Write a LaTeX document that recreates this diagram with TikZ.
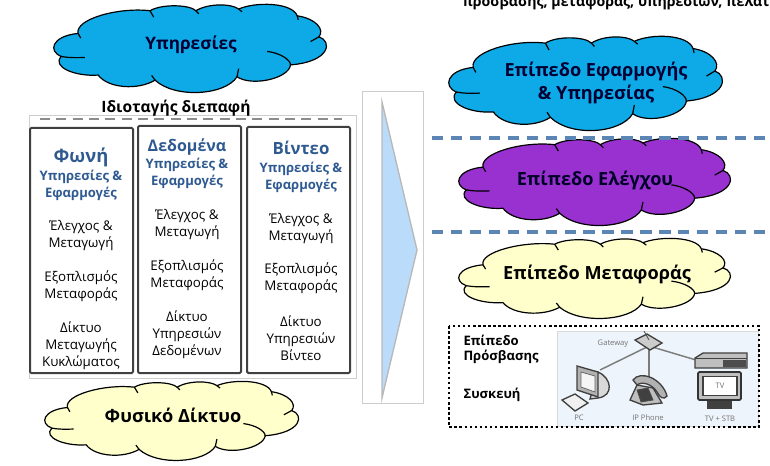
\documentclass[tikz,border=0pt]{standalone}
\usepackage{fontspec}
\setmainfont{Open Sans}
\definecolor{cloudblue}{RGB}{14,170,232}
\definecolor{cloudpurple}{RGB}{153,48,208}
\definecolor{cloudyellow}{RGB}{255,255,204}
\definecolor{headblue}{RGB}{47,90,145}
\definecolor{dashblue}{RGB}{90,133,180}
\definecolor{arrowblue}{RGB}{186,220,250}
\definecolor{panelblue}{RGB}{238,244,251}
\definecolor{framegray}{RGB}{205,205,205}
\definecolor{columngray}{RGB}{64,64,64}
\definecolor{devicegray}{RGB}{125,125,125}
\tikzset{every picture/.style={line width=0.75pt},
  cloudline/.style={draw=black,line width=0.9pt},
  columnbox/.style={draw=columngray,line width=1.5pt,rounded corners=1pt},
  planedash/.style={draw=dashblue,line width=2.5pt,dash pattern=on 8.5pt off 5.7pt},
  planetext/.style={font=\bfseries\fontsize{13.6}{17.2}\selectfont,align=center,inner sep=0.75pt},
  bodytext/.style={font=\fontsize{10}{12.75}\selectfont,align=center,inner sep=0.75pt},
  subtext/.style={font=\bfseries\fontsize{9.8}{12.75}\selectfont,text=headblue,align=center,inner sep=0.75pt},
  accesstext/.style={font=\bfseries\fontsize{9.8}{12.75}\selectfont,align=left,anchor=west,inner sep=0.75pt},
  devicetext/.style={font=\fontsize{5.7}{6}\selectfont,text=black!55,inner sep=0.75pt},
  device/.style={draw=black!75,line width=1pt,fill=black!12},
  deviceline/.style={draw=devicegray,line width=1.1pt}}
\newcommand{\layercloud}[5]{%
\begin{scope}[shift={(#1,#2)},xscale=#3/822,yscale=#4/257,shift={(-58,-28)}]
\path [cloudline,fill=#5] (80,180) .. controls (40,165) and (50,120) .. (130,112) .. controls (120,70) and (250,34) .. (345,45) .. controls (380,24) and (465,27) .. (482,45) .. controls (520,22) and (590,24) .. (610,40) .. controls (660,18) and (770,20) .. (785,60) .. controls (840,68) and (868,100) .. (850,122) .. controls (890,135) and (885,195) .. (765,205) .. controls (760,245) and (650,270) .. (605,240) .. controls (570,295) and (420,305) .. (360,250) .. controls (310,280) and (220,275) .. (190,235) .. controls (120,240) and (50,210) .. (80,180) -- cycle ;
\draw [cloudline] (80,180) .. controls (100,184) and (125,184) .. (150,183) ;
\draw [cloudline] (130,112) -- (138,126) ;
\draw [cloudline] (345,45) -- (356,64) ;
\draw [cloudline] (482,45) -- (491,54) ;
\draw [cloudline] (610,40) -- (620,48) ;
\draw [cloudline] (785,60) -- (788,72) ;
\draw [cloudline] (850,122) -- (825,136) ;
\draw [cloudline] (765,205) .. controls (765,190) and (735,170) .. (695,165) ;
\draw [cloudline] (605,240) -- (610,216) ;
\draw [cloudline] (360,250) -- (350,236) ;
\end{scope}}

\begin{document}
\begin{tikzpicture}[x=0.75pt,y=0.75pt,yscale=-1,xscale=1]
\useasboundingbox (0,0) rectangle (770,466);

%Shape: Cloud
\layercloud{54}{5}{275}{87}{cloudblue}
\layercloud{45}{382}{256}{78}{cloudyellow}
\layercloud{449}{37}{276}{93}{cloudblue}
\layercloud{459}{139}{274}{86}{cloudpurple}
\layercloud{459}{239}{274}{79}{cloudyellow}

% Text Node
\node (services) at (191,45) [planetext,font=\bfseries\fontsize{12.9}{17.2}\selectfont,text=black!80!blue] {Υπηρεσίες};
\node (physical) at (173,415) [planetext] {Φυσικό Δίκτυο};
\node (appplane) at (596,82.5) [planetext,text=black!80!blue] {Επίπεδο Εφαρμογής\\\& Υπηρεσίας};
\node (ctrlplane) at (595,180) [planetext,text=black!85!blue] {Επίπεδο Ελέγχου};
\node (transplane) at (597,274) [planetext] {Επίπεδο Μεταφοράς};
\node (toptext) at (462,7) [anchor=base west,inner sep=0pt,font=\bfseries\fontsize{10.6}{12}\selectfont] {πρόσβασης, μεταφοράς, υπηρεσιών, πελατ};

%Shape: Rectangle
\draw [framegray,line width=0.6pt] (29,115) rectangle (356,378) ;
\draw [line width=2.2pt,draw=black!45,dash pattern=on 7.5pt off 4.75pt] (40,119) -- (342,119) ;
\node (iface) at (176,108) [inner sep=0.75pt,font=\bfseries\fontsize{11.7}{12}\selectfont] {Ιδιοταγής διεπαφή};
\draw [columnbox] (30,128) rectangle (133,373) ;
\draw [columnbox] (138,126) rectangle (241,373) ;
\draw [columnbox] (247,127) rectangle (350,373) ;

% Text Node
\node (voice) at (81,157) [inner sep=0.75pt,text=headblue,font=\bfseries\fontsize{13.8}{16}\selectfont] {Φωνή};
\node (voicesrv) at (81,185) [subtext] {Υπηρεσίες \&\\Εφαρμογές};
\node (voicectl) at (81,235.5) [bodytext] {Έλεγχος \&\\Μεταγωγή};
\node (voiceeq) at (81,286.5) [bodytext] {Εξοπλισμός\\Μεταφοράς};
\node (voicenet) at (81,346) [bodytext] {Δίκτυο\\Μεταγωγής\\Κυκλώματος};
% Text Node
\node (data) at (187,147) [inner sep=0.75pt,text=headblue,font=\bfseries\fontsize{12}{14}\selectfont] {Δεδομένα};
\node (datasrv) at (187,173.5) [subtext] {Υπηρεσίες \&\\Εφαρμογές};
\node (datactl) at (187,224.5) [bodytext] {Έλεγχος \&\\Μεταγωγή};
\node (dataeq) at (187,275.5) [bodytext] {Εξοπλισμός\\Μεταφοράς};
\node (datanet) at (187,335) [bodytext] {Δίκτυο\\Υπηρεσιών\\Δεδομένων};
% Text Node
\node (video) at (301,148) [inner sep=0.75pt,text=headblue,font=\bfseries\fontsize{12.6}{14}\selectfont] {Βίντεο};
\node (videosrv) at (301,177.5) [subtext] {Υπηρεσίες \&\\Εφαρμογές};
\node (videoctl) at (301,228.5) [bodytext] {Έλεγχος \&\\Μεταγωγή};
\node (videoeq) at (301,278.5) [bodytext] {Εξοπλισμός\\Μεταφοράς};
\node (videonet) at (301,338) [bodytext] {Δίκτυο\\Υπηρεσιών\\Βίντεο};

%Shape: Arrow
\draw [framegray,line width=0.6pt] (362,91) rectangle (423,403) ;
\draw [draw=black!28,fill=arrowblue,line width=1pt] (382,102) -- (417,250) -- (382,398) -- cycle ;

%Shape: Dashed planes
\draw [planedash] (432,138) -- (770,138) ;
\draw [planedash] (432,232) -- (770,232) ;

%Shape: Access panel
\draw [draw=black!15,line width=0.5pt,fill=panelblue] (557,331) rectangle (758,426) ;
\draw [line width=1.9pt,dash pattern=on 1.9pt off 1.9pt] (449,326) rectangle (759,427) ;
\node (accessa) at (462,340) [accesstext] {Επίπεδο};
\node (accessb) at (462,357) [accesstext] {Πρόσβασης};
\node (accessc) at (462,395) [accesstext] {Συσκευή};

%Shape: Devices
\coordinate (pcport) at (600,370);
\coordinate (phoneport) at (649,378);
\coordinate (stbport) at (696,360);
\coordinate (gwport) at (649,346);
\draw [deviceline] (gwport) -- (pcport) ;
\draw [deviceline] (gwport) -- (phoneport) ;
\draw [deviceline] (gwport) -- (stbport) ;
\draw [device,fill=black!20] (635,340) -- (647,334) -- (662,343) -- (650,350) -- cycle ;
\draw [black!70,line width=0.6pt] (649,340) -- (644,331) ;
% PC
\draw [device,fill=black!15] (598,372) .. controls (612,378) and (614,396) .. (598,398) -- (590,399) -- (592,392) -- cycle ;
\draw [device,fill=black!30] (577,366) -- (598,372) -- (598,397) -- (577,390) -- cycle ;
\draw [draw=black!60,line width=0.6pt,fill=black!4] (581,372) -- (595,376) -- (595,392) -- (581,387) -- cycle ;
\draw [device,fill=black!6] (562,400) -- (575,394) -- (588,403) -- (575,411) -- cycle ;
% Phone
\draw [device,fill=black!25] (630,400) -- (637,385) -- (653,388) -- (662,403) -- (643,405) -- cycle ;
\draw [device,fill=black!30] (633,380) .. controls (640,370) and (662,378) .. (667,396) .. controls (664,400) and (660,398) .. (657,392) .. controls (652,384) and (642,381) .. (637,385) -- cycle ;
\draw [draw=black!70,line width=0.6pt,fill=black!75] (637,390) -- (648,388) -- (653,400) -- (641,402) -- cycle ;
% TV and STB
\draw [device,fill=black!25] (695,358) -- (703,353) -- (747,353) -- (747,368) -- (695,368) -- cycle ;
\draw [black!75,line width=0.6pt] (695,358) -- (747,358) ;
\fill [black!70] (723,360) rectangle (746,367) ;
\draw [device,fill=black!75] (708,398) rectangle (731,408) ;
\draw [draw=black!80,line width=1.3pt,fill=black!25,rounded corners=1pt] (698,372) rectangle (741,400) ;
\node (tvscreen) at (720,386) [draw=black!75,fill=white,line width=0.8pt,minimum width=25.5pt,minimum height=14pt,inner sep=0pt,font=\fontsize{5.7}{6}\selectfont,text=black!55] {TV};
% Text Node
\node (gwlabel) at (613,344) [devicetext] {Gateway};
\node (pclabel) at (579,418) [devicetext] {PC};
\node (phonelabel) at (648,418) [devicetext] {IP Phone};
\node (stblabel) at (720,419) [devicetext] {TV + STB};

\end{tikzpicture}
\end{document}
